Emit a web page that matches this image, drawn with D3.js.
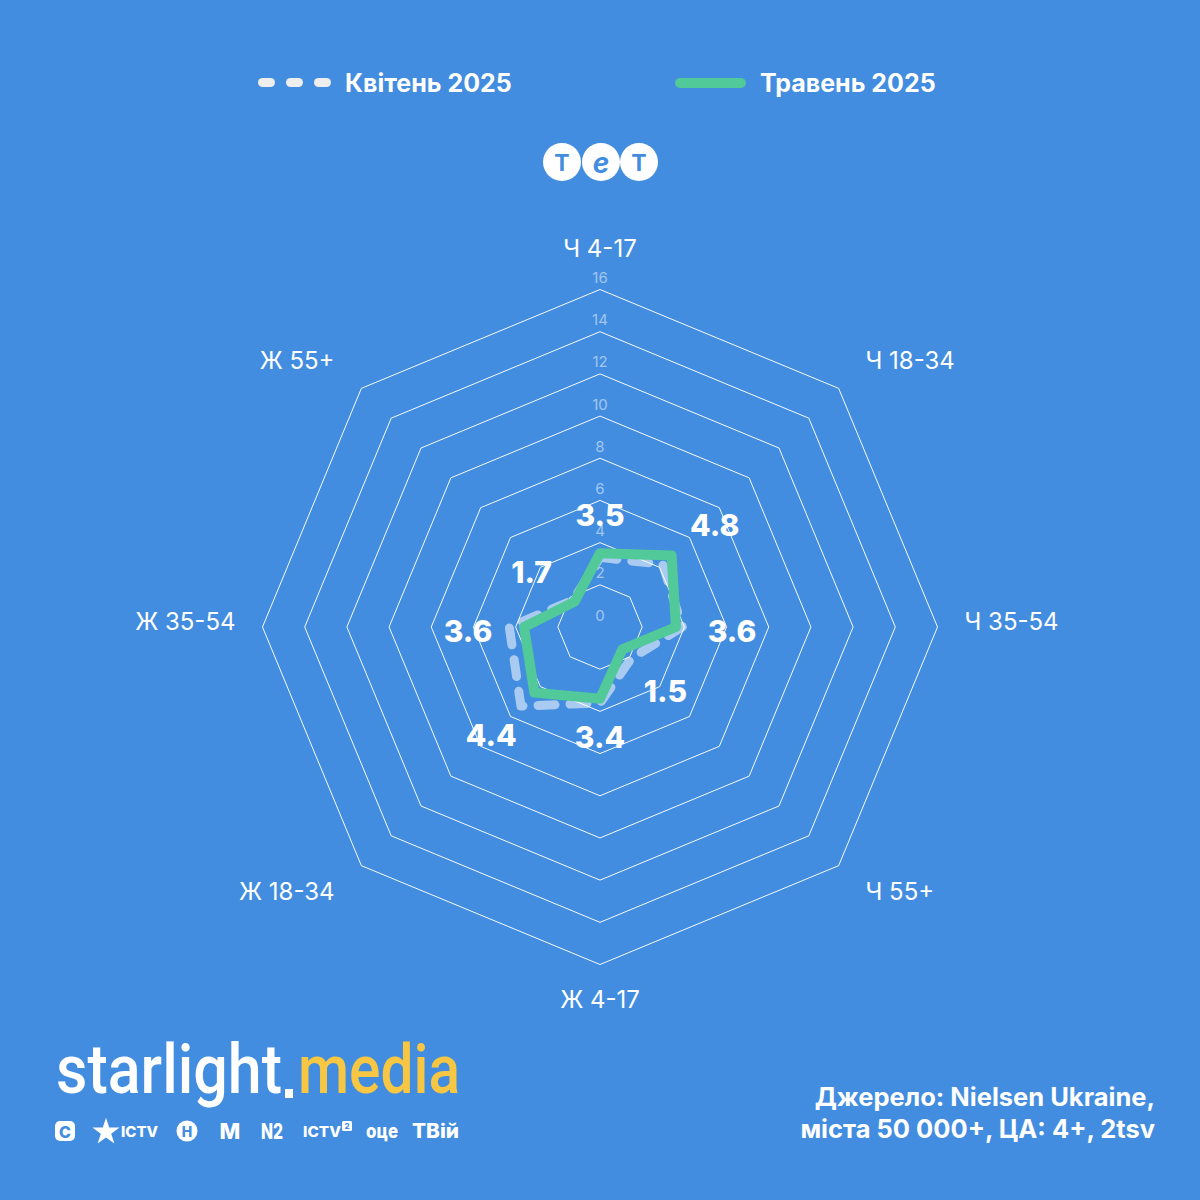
<!DOCTYPE html>
<html>
<head>
<meta charset="utf-8">
<script src="https://cdn.jsdelivr.net/npm/d3@7"></script>
<style>
  html, body { margin: 0; padding: 0; background: #428DDF; }
  svg { display: block; }
</style>
</head>
<body>
<svg id="chart" width="1200" height="1200"></svg>
<script>
// ---- Data ----
const categories = ["Ч 4-17", "Ч 18-34", "Ч 35-54", "Ч 55+", "Ж 4-17", "Ж 18-34", "Ж 35-54", "Ж 55+"];
const aprilValues = [3.3, 4.2, 3.9, 2.1, 3.6, 5.3, 4.3, 1.8];
const mayValues   = [3.5, 4.8, 3.6, 1.5, 3.4, 4.4, 3.6, 1.7];
const tickValues  = [0, 2, 4, 6, 8, 10, 12, 14, 16];
const seriesNames = ["Квітень 2025", "Травень 2025"];
const sourceLines = ["Джерело: Nielsen Ukraine,", "міста 50 000+, ЦА: 4+, 2tsv"];
const channelNames = ["ICTV", "ICTV", "оце", "ТВій"];

// ---- Style ----
const BG = "#428DDF", GREEN = "#52C999", YELLOW = "#F7C642";
const FONT = "Inter, 'Noto Sans', sans-serif";
const cx = 600, cy = 627, R = 337.5;

const svg = d3.select("#chart");
svg.append("rect").attr("width", 1200).attr("height", 1200).attr("fill", BG);

const r = d3.scaleLinear().domain([0, 16]).range([0, R]);
const angle = d3.scalePoint().domain(categories).range([0, 2 * Math.PI * (categories.length - 1) / categories.length]);
const g = svg.append("g").attr("transform", `translate(${cx},${cy})`);

const px = (c, v) => r(v) * Math.sin(angle(c));
const py = (c, v) => -r(v) * Math.cos(angle(c));

// rings
const ringLine = d3.line().x(d => d[0]).y(d => d[1]).curve(d3.curveLinearClosed);
tickValues.filter(t => t > 0).forEach(t => {
  g.append("path")
    .attr("d", ringLine(categories.map(c => [px(c, t), py(c, t)])))
    .attr("fill", "none").attr("stroke", "#ffffff").attr("stroke-opacity", 0.95).attr("stroke-width", 1);
});

// tick labels
g.selectAll(".tick").data(tickValues).enter().append("text")
  .attr("x", 0).attr("y", d => -r(d) - 12)
  .attr("text-anchor", "middle").attr("dominant-baseline", "central")
  .attr("font-family", FONT).attr("font-size", 15).attr("fill", "#ffffff").attr("fill-opacity", 0.5)
  .text(d => d);

// series
const radarLine = d3.lineRadial()
  .angle((d, i) => angle(categories[i]))
  .radius(d => r(d))
  .curve(d3.curveLinearClosed);

g.append("path").attr("d", radarLine(aprilValues))
  .attr("fill", "none").attr("stroke", "#ffffff").attr("stroke-opacity", 0.55)
  .attr("stroke-width", 9).attr("stroke-dasharray", "17 15").attr("stroke-linecap", "round").attr("stroke-linejoin", "round");

g.append("path").attr("d", radarLine(mayValues))
  .attr("fill", "none").attr("stroke", GREEN)
  .attr("stroke-width", 10).attr("stroke-linejoin", "round").attr("stroke-linecap", "round");

// value labels (May)
categories.forEach((c, i) => {
  const a = angle(c);
  const sx = Math.sin(a), sy = -Math.cos(a);
  const s = Math.abs(sx);
  const d = r(mayValues[i]) + 38 + 18 * s + 6 * Math.abs(Math.sin(2 * a));
  const diag = s > 0.1 && Math.abs(sy) > 0.1;
  const shift = diag ? (sy < 0 ? 10 : 2) : (s > 0.9 ? 4 : 0);
  g.append("text")
    .attr("x", d * sx + (diag ? 3 * Math.sign(sx) : 0)).attr("y", d * sy + shift)
    .attr("text-anchor", "middle").attr("dominant-baseline", "central")
    .attr("font-family", FONT).attr("font-weight", 800).attr("font-size", 30).attr("fill", "#ffffff")
    .text(d3.format(".1f")(mayValues[i]));
});

// axis labels
categories.forEach(c => {
  const a = angle(c);
  const sx = Math.sin(a), sy = -Math.cos(a);
  const horiz = Math.abs(sy) < 0.01;
  const vert = Math.abs(sx) < 0.01;
  const pad = horiz ? 27 : 38;
  const x = (R + pad) * sx, y = (R + pad) * sy + (horiz ? -6 : (vert ? -3 : -1));
  const anchor = vert ? "middle" : (sx > 0 ? "start" : "end");
  g.append("text").attr("x", x).attr("y", y)
    .attr("text-anchor", anchor).attr("dominant-baseline", "central")
    .attr("font-family", FONT).attr("font-size", 24).attr("fill", "#ffffff")
    .text(c);
});

// ---- Legend ----
const leg = svg.append("g");
[258, 286, 314].forEach(x => {
  leg.append("rect").attr("x", x).attr("y", 78).attr("width", 17).attr("height", 9).attr("rx", 4.5)
    .attr("fill", "#eeeeee");
});
leg.append("text").attr("x", 345).attr("y", 83).attr("dominant-baseline", "central")
  .attr("font-family", FONT).attr("font-weight", 700).attr("font-size", 25).attr("fill", "#ffffff")
  .text(seriesNames[0]);
leg.append("rect").attr("x", 675).attr("y", 78).attr("width", 71).attr("height", 10).attr("rx", 5)
  .attr("fill", GREEN);
leg.append("text").attr("x", 760).attr("y", 83).attr("dominant-baseline", "central")
  .attr("font-family", FONT).attr("font-weight", 700).attr("font-size", 25).attr("fill", "#ffffff")
  .text(seriesNames[1]);

// ---- TET logo ----
const tet = svg.append("g");
[[562, "Т", "normal", 23], [601, "е", "italic", 28], [639, "Т", "normal", 23]].forEach(([x, t, st, fs]) => {
  tet.append("circle").attr("cx", x).attr("cy", 162).attr("r", 19).attr("fill", "#ffffff");
  tet.append("text").attr("x", x).attr("y", 163).attr("text-anchor", "middle").attr("dominant-baseline", "central")
    .attr("font-family", FONT).attr("font-weight", 700).attr("font-style", st).attr("font-size", fs).attr("fill", BG)
    .text(t);
});

// ---- starlight.media logo ----
const logo = svg.append("g");
logo.append("text").attr("x", 56).attr("y", 1093)
  .attr("font-family", "Roboto, sans-serif").attr("font-weight", 500).attr("font-size", 68).attr("fill", "#ffffff")
  .attr("textLength", 226).attr("lengthAdjust", "spacingAndGlyphs").text("starlight");
logo.append("rect").attr("x", 285).attr("y", 1089).attr("width", 8).attr("height", 9).attr("fill", "#ffffff");
logo.append("text").attr("x", 298).attr("y", 1093)
  .attr("font-family", "Roboto, sans-serif").attr("font-weight", 500).attr("font-size", 68).attr("fill", YELLOW)
  .attr("textLength", 162).attr("lengthAdjust", "spacingAndGlyphs").text("media");

// channel icons
const ch = svg.append("g").attr("fill", "#ffffff").attr("font-family", FONT).attr("font-weight", 800);
ch.append("rect").attr("x", 55).attr("y", 1121).attr("width", 20).attr("height", 20).attr("rx", 5);
ch.append("text").attr("x", 65).attr("y", 1131.5).attr("text-anchor", "middle").attr("dominant-baseline", "central")
  .attr("font-size", 16).attr("fill", BG).text("C");
const star = d3.symbol().type(d3.symbolStar).size(230);
ch.append("path").attr("d", star()).attr("transform", "translate(106,1132)");
ch.append("text").attr("x", 121).attr("y", 1131).attr("dominant-baseline", "central").attr("font-size", 14)
  .attr("textLength", 37).attr("lengthAdjust", "spacingAndGlyphs").text(channelNames[0]);
ch.append("circle").attr("cx", 187).attr("cy", 1131).attr("r", 10.5);
ch.append("text").attr("x", 187).attr("y", 1131.5).attr("text-anchor", "middle").attr("dominant-baseline", "central")
  .attr("font-size", 14).attr("fill", BG).text("H");
ch.append("text").attr("x", 230).attr("y", 1131).attr("text-anchor", "middle").attr("dominant-baseline", "central")
  .attr("font-size", 22).text("M");
ch.append("text").attr("x", 272).attr("y", 1131).attr("text-anchor", "middle").attr("dominant-baseline", "central")
  .attr("font-size", 22).attr("textLength", 22).attr("lengthAdjust", "spacingAndGlyphs").text("N2");
ch.append("text").attr("x", 303).attr("y", 1131).attr("dominant-baseline", "central").attr("font-size", 14)
  .attr("textLength", 38).attr("lengthAdjust", "spacingAndGlyphs").text(channelNames[1]);
ch.append("rect").attr("x", 342).attr("y", 1121).attr("width", 10).attr("height", 10).attr("rx", 1.5);
ch.append("text").attr("x", 347).attr("y", 1126.3).attr("text-anchor", "middle").attr("dominant-baseline", "central")
  .attr("font-size", 8).attr("fill", BG).text("2");
ch.append("text").attr("x", 366).attr("y", 1131).attr("dominant-baseline", "central").attr("font-size", 20)
  .attr("textLength", 32).attr("lengthAdjust", "spacingAndGlyphs").text(channelNames[2]);
ch.append("text").attr("x", 412).attr("y", 1131).attr("dominant-baseline", "central").attr("font-size", 20)
  .attr("textLength", 47).attr("lengthAdjust", "spacingAndGlyphs").text(channelNames[3]);

// ---- Source ----
const src = svg.append("g").attr("font-family", FONT).attr("font-weight", 700).attr("font-size", 25.5)
  .attr("fill", "#ffffff").attr("text-anchor", "end");
sourceLines.forEach((t, i) => {
  src.append("text").attr("x", 1155).attr("y", 1106 + i * 32).text(t);
});
</script>
</body>
</html>
